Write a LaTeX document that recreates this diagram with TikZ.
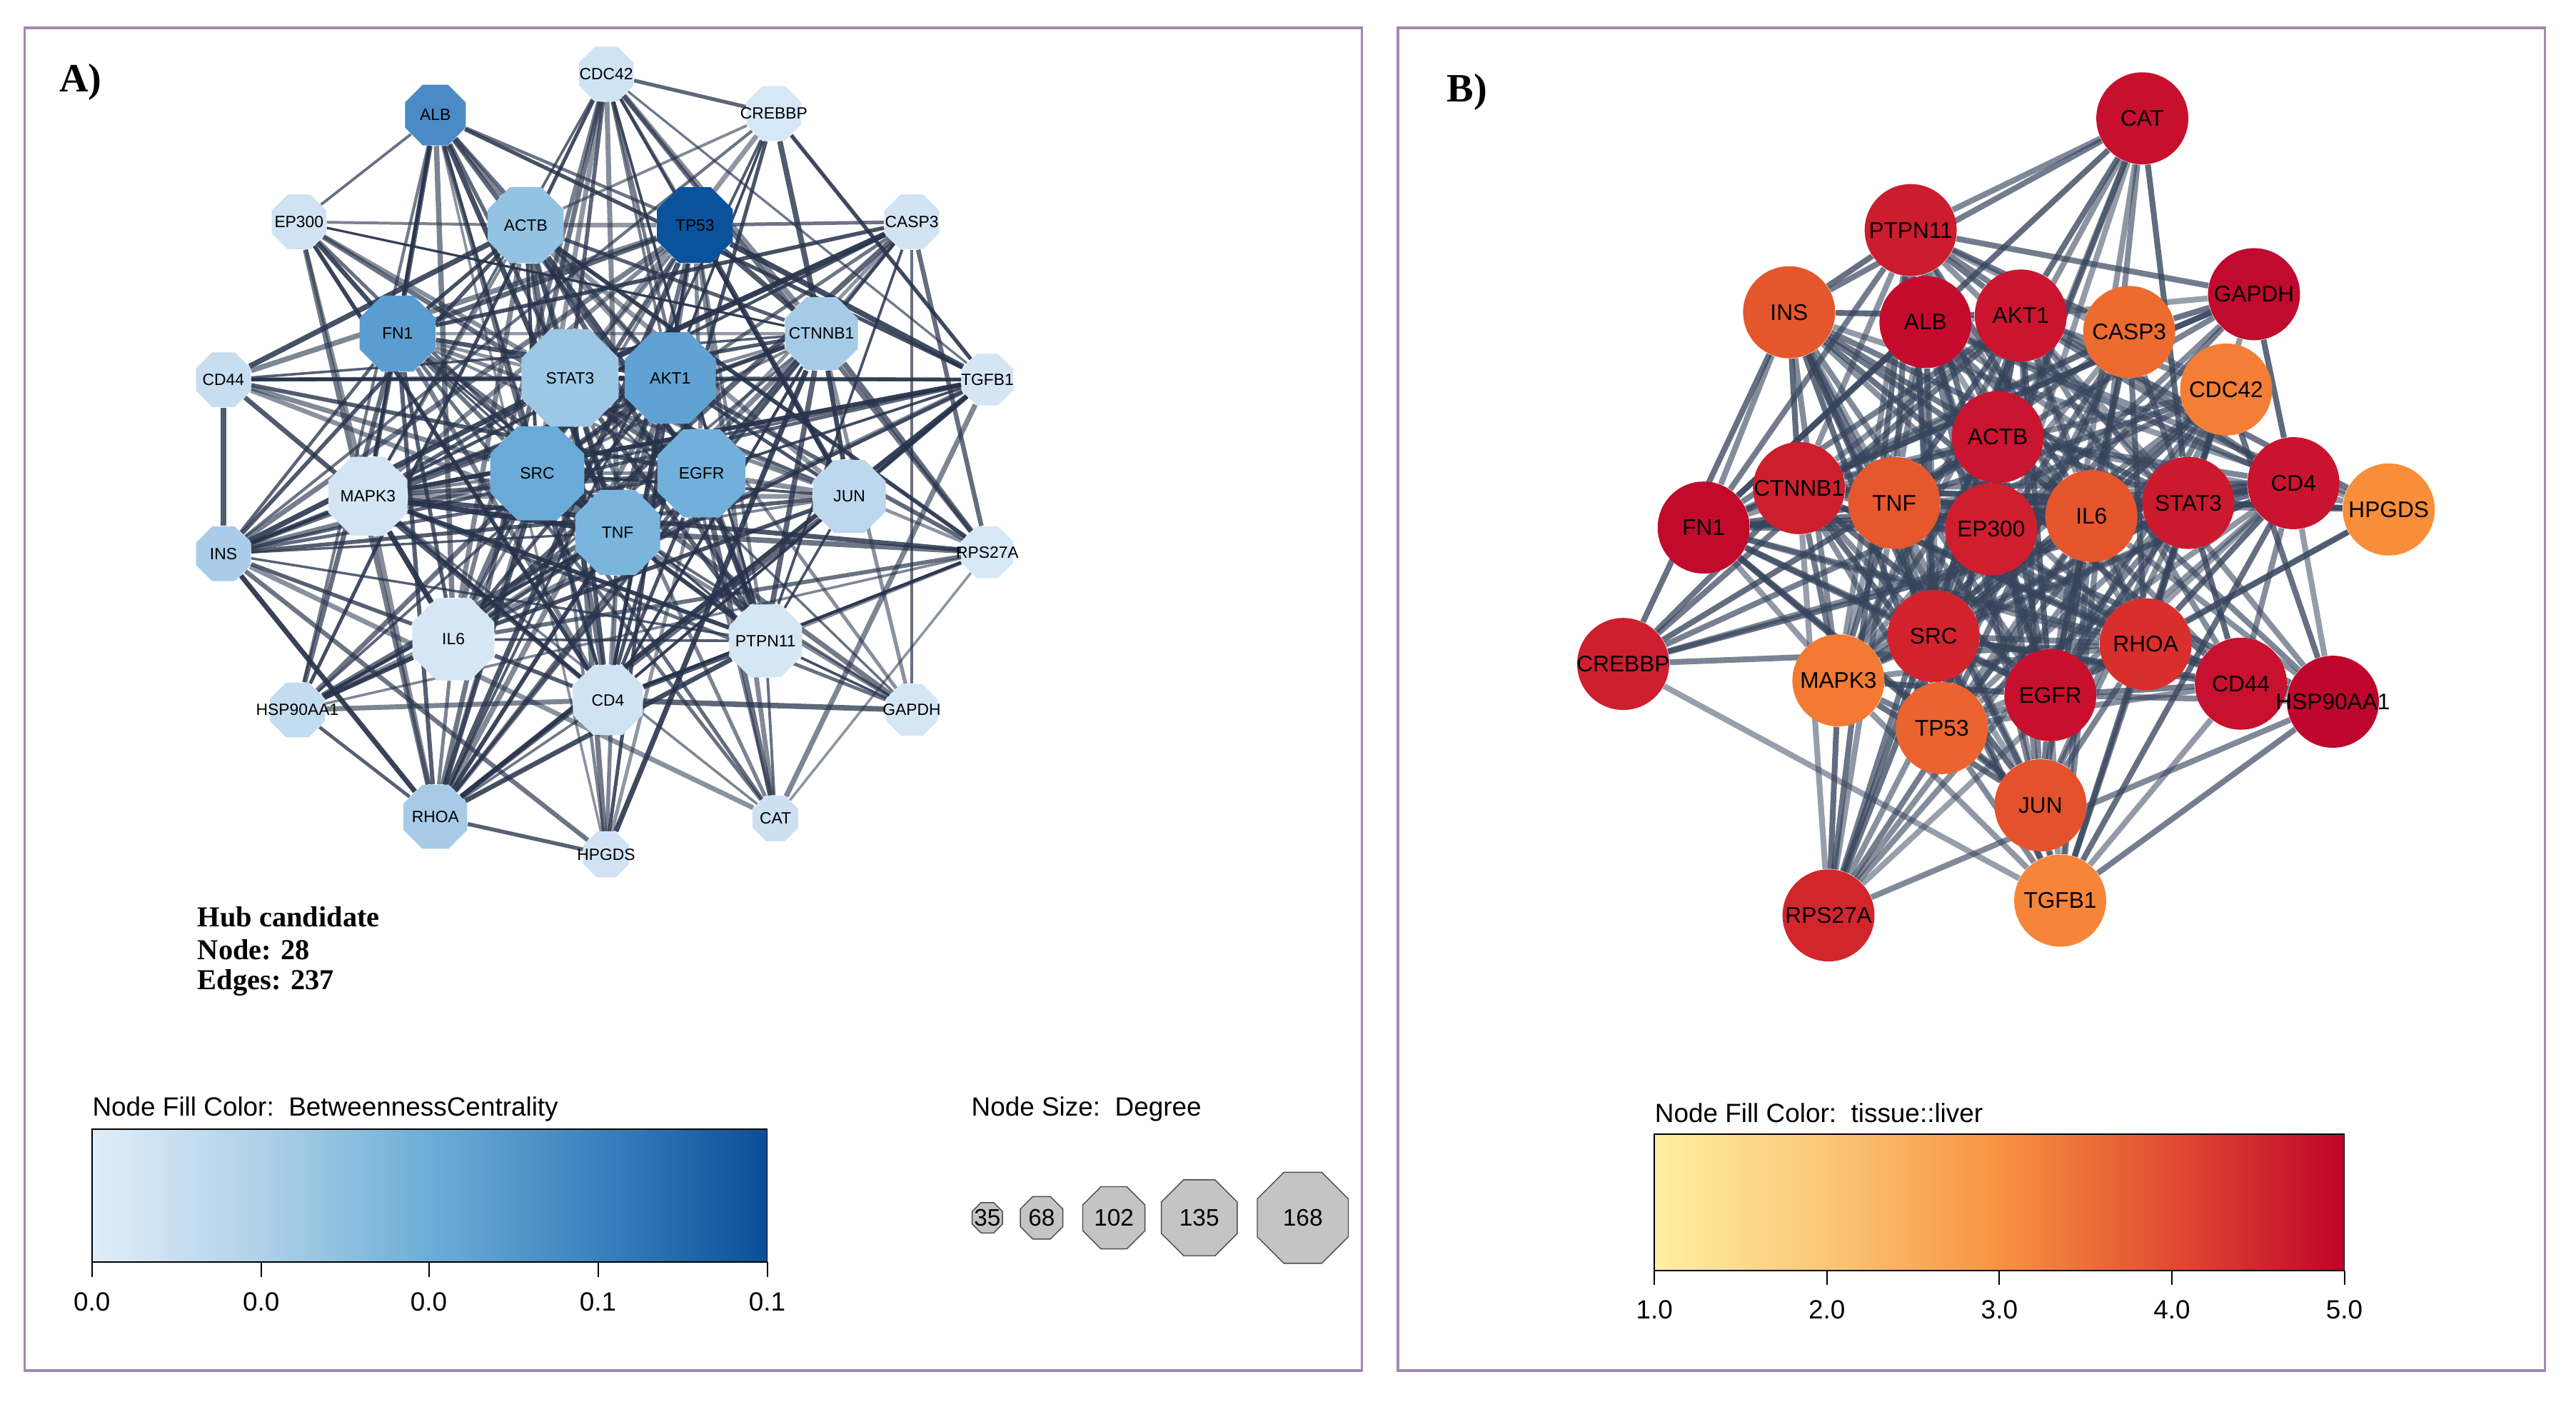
\documentclass[tikz,border=0pt]{standalone}
\usepackage{fontspec}
\setmainfont{Liberation Serif}
\setsansfont{Liberation Sans}
\usetikzlibrary{shapes.geometric}

\definecolor{framecol}{HTML}{A387B2}
\definecolor{edgecolA}{HTML}{27334B}
\definecolor{edgecolB}{HTML}{36445C}
\definecolor{legendgray}{HTML}{C4C4C4}
\definecolor{bl0}{HTML}{E1EDF8}
\definecolor{bl1}{HTML}{AFD1E9}
\definecolor{bl2}{HTML}{6BAED6}
\definecolor{bl3}{HTML}{3A82BF}
\definecolor{bl4}{HTML}{0B4E98}
\definecolor{yo0}{HTML}{FFEFA3}
\definecolor{yo1}{HTML}{FAC776}
\definecolor{yo2}{HTML}{F89240}
\definecolor{yo3}{HTML}{E04C31}
\definecolor{yo4}{HTML}{BF042A}

\pgfdeclarehorizontalshading{bluesbar}{100bp}{color(0bp)=(bl0); color(25bp)=(bl0); color(37.5bp)=(bl1); color(50bp)=(bl2); color(62.5bp)=(bl3); color(75bp)=(bl4); color(100bp)=(bl4)}
\pgfdeclarehorizontalshading{ylorrdbar}{100bp}{color(0bp)=(yo0); color(25bp)=(yo0); color(37.5bp)=(yo1); color(50bp)=(yo2); color(62.5bp)=(yo3); color(75bp)=(yo4); color(100bp)=(yo4)}

\pgfdeclarelayer{edgelayer}
\pgfsetlayers{edgelayer,main}

\newcommand{\px}{0.02301cm}

% name/x/y/size/fill
\def\nodesA{CDC42/369/45/36/D0E3F3, ALB/265/70/40/4A8BC6, CREBBP/471/69/36/D8E7F5,
  EP300/182/135/36/D0E2F3, ACTB/320/137/50/93C2E2, TP53/423/137/50/0A529C,
  CASP3/555/135/36/D2E3F3, FN1/242/203/50/5A9DD0, CTNNB1/500/203/48/A6CBE7,
  CD44/136/231/36/C7DDF0, STAT3/347/230/64/9DC8E5, AKT1/408/230/60/60A2D4,
  TGFB1/601/231/34/D5E5F4, SRC/327/288/62/6AAAD9, EGFR/427/288/58/72B0DB,
  MAPK3/224/302/52/D3E4F4, JUN/517/302/48/BCD7EE, TNF/376/324/56/79B5DD,
  INS/136/337/36/A9CDE9, RPS27A/601/336/34/D8E7F5, IL6/276/389/54/D5E6F5,
  PTPN11/466/390/48/D5E6F5, HSP90AA1/181/432/36/C4DCEF, CD4/370/426/46/D0E3F4,
  GAPDH/555/432/34/D5E6F5, RHOA/265/497/42/A7CBE7, CAT/472/498/30/CCE0F2,
  HPGDS/369/520/30/D0E2F3}
% name/x/y/fill
\def\nodesB{CAT/1304/72/C8102E, PTPN11/1163/140/CC1D2E, INS/1089/190/E4572C,
  ALB/1172/196/C50B2D, AKT1/1230/192/CB152F, CASP3/1296/202/EE6B2F,
  GAPDH/1372/179/C00A2E, CDC42/1355/237/F47E35, ACTB/1216/266/C91530,
  CTNNB1/1095/297/CC1F2E, TNF/1153/306/E6572D, FN1/1037/321/C20A2D,
  EP300/1212/322/CF1E2E, IL6/1273/314/E5562C, STAT3/1332/306/CB192E,
  CD4/1396/294/CA142F, HPGDS/1454/310/F88E3A, CREBBP/988/404/CE1F2F,
  SRC/1177/387/D2232D, RHOA/1306/392/D92F2C, MAPK3/1119/414/F27A32,
  EGFR/1248/423/C90F2E, CD44/1364/416/C8102F, HSP90AA1/1420/427/BF062D,
  TP53/1182/443/EA6330, JUN/1242/490/E3522C, RPS27A/1113/557/D2262D,
  TGFB1/1254/548/F6853A}
% name/degree
\def\genes{STAT3/27, AKT1/27, SRC/27, EGFR/26, TNF/25, MAPK3/23, IL6/23, ACTB/21,
  TP53/21, CTNNB1/20, JUN/20, PTPN11/19, FN1/18, CD4/18, RHOA/16, ALB/15, INS/14,
  CDC42/14, CASP3/14, GAPDH/13, CD44/13, EP300/13, HSP90AA1/12, CREBBP/11,
  TGFB1/11, RPS27A/10, CAT/10, HPGDS/9}

\begin{document}
\begin{tikzpicture}[x=\px, y=-\px,
  octo/.style={regular polygon, regular polygon sides=8, inner sep=0pt, draw=none,
    font=\sffamily\fontsize{6.5}{7}\selectfont},
  ball/.style={circle, inner sep=0pt, draw=none, minimum size=56*\px,
    font=\sffamily\fontsize{9}{10}\selectfont},
  sizeocto/.style={regular polygon, regular polygon sides=8, inner sep=0pt,
    fill=legendgray, draw=gray!60!black, line width=0.4pt, minimum size=#1*\px,
    font=\sffamily\fontsize{9.5}{11}\selectfont},
  legtext/.style={font=\sffamily\fontsize{10.5}{12}\selectfont, anchor=west, inner sep=0pt},
  ticklab/.style={font=\sffamily\fontsize{10.5}{12}\selectfont, inner sep=0pt},
  hub/.style={font=\bfseries\fontsize{11.5}{13}\selectfont, anchor=west, inner sep=0pt},
  paneltag/.style={font=\bfseries\fontsize{16}{18}\selectfont, inner sep=0pt},
  panel/.style={draw=framecol, line width=1pt}]

\useasboundingbox (0,0) rectangle (1568,853);

% frames
\draw[panel] (15,17) rectangle (829,834);
\draw[panel] (851,17) rectangle (1549,834);
\node[paneltag] (tagA) at (49,50) {A)};
\node[paneltag] (tagB) at (893,56) {B)};

% nodes
\foreach \n/\nx/\ny/\s/\col in \nodesA {
  \definecolor{nodefill}{HTML}{\col}
  \node[octo, minimum size=\s*\px, fill=nodefill] (a\n) at (\nx,\ny) {\makebox[0pt]{\n}};
}
\foreach \n/\nx/\ny/\col in \nodesB {
  \definecolor{nodefill}{HTML}{\col}
  \node[ball, fill=nodefill] (b\n) at (\nx,\ny) {\makebox[0pt]{\n}};
}

% edges (same network in both panels)
\begin{pgfonlayer}{edgelayer}
\fill[white] (0,0) rectangle (1568,853);
\pgfmathsetseed{2024}
\foreach \g/\d [count=\i] in \genes {
  \foreach \h/\e [count=\j] in \genes {
    \ifnum\j>\i
      \pgfmathsetmacro\p{\d*\e/430}
      \pgfmathsetmacro\r{rnd}
      \ifdim\r pt<\p pt
        \pgfmathsetmacro\oa{0.5+0.45*rnd}
        \pgfmathsetmacro\wa{0.9+1.3*rnd}
        \draw[edgecolA, line width=\wa pt, draw opacity=\oa] (a\g) -- (a\h);
        \pgfmathsetmacro\ob{0.5+0.3*rnd}
        \draw[edgecolB, line width=2.3pt, draw opacity=\ob] (b\g) -- (b\h);
      \fi
    \fi
  }
}
\end{pgfonlayer}

% hub text
\node[hub] (hubtitle) at (120,558) {Hub candidate};
\node[hub] (hubnodes) at (120,578) {Node: 28};
\node[hub] (hubedges) at (120,598) {Edges: 237};

% betweenness legend
\node[legtext] (filltitleA) at (56,675) {Node Fill Color:\ \ BetweennessCentrality};
\shade[shading=bluesbar] (56,687) rectangle (467,768);
\draw[line width=0.5pt] (56,687) rectangle (467,768);
\foreach \tx/\lab [count=\k] in {56/0.0, 159/0.0, 261/0.0, 364/0.1, 467/0.1} {
  \draw[line width=0.6pt] (\tx,768) -- (\tx,777);
  \node[ticklab] (tickA\k) at (\tx,792) {\lab};
}

% degree legend
\node[legtext] (sizetitle) at (591,675) {Node Size:\ \ Degree};
\foreach \deg/\sx/\sd in {35/601/20, 68/634/28, 102/678/41, 135/730/50, 168/793/60}
  \node[sizeocto=\sd] (size\deg) at (\sx,741) {\makebox[0pt]{\deg}};

% liver legend
\node[legtext] (filltitleB) at (1007,677) {Node Fill Color:\ \ tissue::liver};
\shade[shading=ylorrdbar] (1007,690) rectangle (1427,773);
\draw[line width=0.5pt] (1007,690) rectangle (1427,773);
\foreach \tx/\lab [count=\k] in {1007/1.0, 1112/2.0, 1217/3.0, 1322/4.0, 1427/5.0} {
  \draw[line width=0.6pt] (\tx,773) -- (\tx,782);
  \node[ticklab] (tickB\k) at (\tx,797) {\lab};
}
\end{tikzpicture}
\end{document}
